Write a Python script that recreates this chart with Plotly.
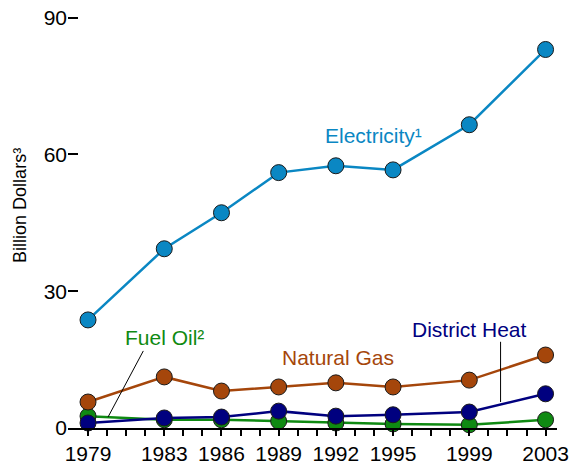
import plotly.graph_objects as go

years = [1979, 1983, 1986, 1989, 1992, 1995, 1999, 2003]
electricity = [23.7, 39.3, 47.2, 56.0, 57.5, 56.6, 66.5, 83.0]
natural_gas = [5.7, 11.2, 8.1, 9.0, 9.9, 9.0, 10.5, 16.0]
fuel_oil = [2.6, 1.8, 1.8, 1.5, 1.1, 0.9, 0.7, 1.8]
district_heat = [1.1, 2.2, 2.4, 3.7, 2.6, 2.9, 3.5, 7.5]
y_ticks = [0, 30, 60, 90]

C_ELEC = "#0a87c3"
C_GAS = "#a5460b"
C_OIL = "#0f8a12"
C_HEAT = "#00007f"
FONT = "Liberation Sans, Arial, sans-serif"

fig = go.Figure()
for vals, col, name in [(fuel_oil, C_OIL, "Fuel Oil"),
                        (district_heat, C_HEAT, "District Heat"),
                        (natural_gas, C_GAS, "Natural Gas"),
                        (electricity, C_ELEC, "Electricity")]:
    fig.add_trace(go.Scatter(
        x=years, y=vals, mode="lines+markers", name=name,
        line=dict(color=col, width=2.5),
        marker=dict(size=16, color=col, line=dict(color="#1a1a1a", width=1)),
        cliponaxis=False, showlegend=False))

all_years = list(range(1979, 2004))
ticktext = [str(y) if y in years else "" for y in all_years]

fig.update_layout(
    width=571, height=464,
    margin=dict(l=68, r=14, t=13, b=36),
    paper_bgcolor="white", plot_bgcolor="white",
    font=dict(family=FONT, size=21, color="black"),
    xaxis=dict(range=[1977.95, 2003.6], tickvals=all_years, ticktext=ticktext,
               ticks="outside", ticklen=6, tickwidth=2, tickcolor="black",
               showline=True, linecolor="black", linewidth=2, automargin=False,
               showgrid=False, zeroline=False, tickfont=dict(size=21)),
    yaxis=dict(range=[0, 91], tickvals=y_ticks, ticks="inside", ticklen=10,
               tickwidth=2, tickcolor="black", showline=False, showgrid=False,
               zeroline=False, tickfont=dict(size=21), automargin=False),
)

fig.add_annotation(text="Billion Dollars³", xref="paper", x=0, xshift=-48,
                   xanchor="center", yanchor="middle",
                   y=48.7, textangle=-90, showarrow=False,
                   font=dict(size=18, color="black", family=FONT))

ann = [
    ("Electricity¹", 1993.95, 64.1, C_ELEC),
    ("Natural Gas", 1992.1, 15.4, C_GAS),
    ("Fuel Oil²", 1983.0, 19.8, C_OIL),
    ("District Heat", 1999.0, 21.5, C_HEAT),
]
for text, x, y, col in ann:
    fig.add_annotation(x=x, y=y, text=text, showarrow=False,
                       font=dict(size=21, color=col, family=FONT))

fig.add_shape(type="line", x0=1981.9, y0=16.9, x1=1980.05, y1=2.4,
              line=dict(color="black", width=1))
fig.add_shape(type="line", x0=2000.64, y0=18.9, x1=2000.64, y1=5.7,
              line=dict(color="black", width=1))

fig.write_html("out.html", config={"displayModeBar": False},
               post_script="document.body.style.margin='0';document.body.style.padding='0';")
